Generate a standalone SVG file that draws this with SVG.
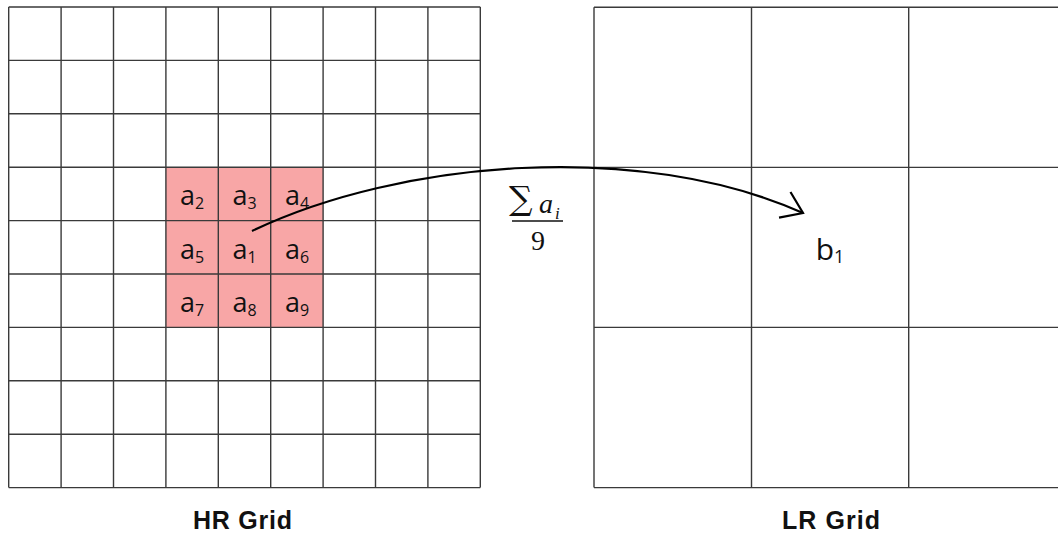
<svg xmlns="http://www.w3.org/2000/svg" width="1058" height="537" viewBox="0 0 1058 537">
  <style>
    .grid { fill: none; stroke: #3a3a3a; stroke-width: 1.4; }
    .cell { fill: #F8A6A6; stroke: none; }
    .lbl { font-family: "Open Sans", "Liberation Sans", sans-serif; font-size: 27px; fill: #111; text-anchor: middle; }
    .sub { font-size: 16px; }
    .cap { font-family: "Liberation Sans", Arial, sans-serif; font-weight: bold; font-size: 25px; fill: #111; text-anchor: middle; }
    .math { font-family: "Liberation Serif", "DejaVu Serif", serif; fill: #111; }
    .conn { fill: none; stroke: #000; stroke-width: 2.2; }
  </style>
  <defs>
    <marker id="openArrow" viewBox="0 0 30 30" refX="24" refY="15" markerWidth="30" markerHeight="30" markerUnits="userSpaceOnUse" orient="auto">
      <path d="M4,1 L24,15 L4,29" fill="none" stroke="#000" stroke-width="2.2"/>
    </marker>
  </defs>
  <rect width="1058" height="537" fill="#ffffff"/>

  <g id="highlight">
    <rect class="cell" x="165.9" y="167.2" width="157.2" height="160.2"/>
  </g>

  <g id="hr-grid">
    <path class="grid" d="M8.7,7V487.6 M61.1,7V487.6 M113.5,7V487.6 M165.9,7V487.6 M218.3,7V487.6 M270.7,7V487.6 M323.1,7V487.6 M375.5,7V487.6 M427.9,7V487.6 M480.3,7V487.6
      M8.7,7H480.3 M8.7,60.4H480.3 M8.7,113.8H480.3 M8.7,167.2H480.3 M8.7,220.6H480.3 M8.7,274H480.3 M8.7,327.4H480.3 M8.7,380.8H480.3 M8.7,434.2H480.3 M8.7,487.6H480.3"/>
  </g>

  <g id="lr-grid">
    <path class="grid" d="M594,7.3V487.6 M751.5,7.3V487.6 M908.7,7.3V487.6 M1066,7.3V487.6
      M594,7.3H1066 M594,167.4H1066 M594,327.4H1066 M594,487.6H1066"/>
  </g>

  <g id="hr-labels">
    <text class="lbl" x="192" y="205">a<tspan class="sub" dy="4">2</tspan></text>
    <text class="lbl" x="244.5" y="205">a<tspan class="sub" dy="4">3</tspan></text>
    <text class="lbl" x="297" y="205">a<tspan class="sub" dy="4">4</tspan></text>
    <text class="lbl" x="192" y="258.5">a<tspan class="sub" dy="4">5</tspan></text>
    <text class="lbl" x="244.5" y="258.5">a<tspan class="sub" dy="4">1</tspan></text>
    <text class="lbl" x="297" y="258.5">a<tspan class="sub" dy="4">6</tspan></text>
    <text class="lbl" x="192" y="312">a<tspan class="sub" dy="4">7</tspan></text>
    <text class="lbl" x="244.5" y="312">a<tspan class="sub" dy="4">8</tspan></text>
    <text class="lbl" x="297" y="312">a<tspan class="sub" dy="4">9</tspan></text>
  </g>

  <g id="lr-label">
    <text class="lbl" x="830" y="259.5" style="font-size:30px">b<tspan style="font-size:18px" dy="3">1</tspan></text>
  </g>

  <g id="formula">
    <text x="509" y="210" style="font-family:'DejaVu Serif',serif;font-size:33px;fill:#111">∑</text>
    <text class="math" x="539" y="213" style="font-size:28px;font-style:italic">a</text>
    <text class="math" x="555" y="219" style="font-size:17px;font-style:italic">i</text>
    <line x1="512" y1="221" x2="563" y2="221" stroke="#111" stroke-width="1.6"/>
    <text class="math" x="538" y="250" style="font-size:28px;text-anchor:middle">9</text>
  </g>

  <g id="captions">
    <text class="cap" x="242.5" y="529" textLength="99" lengthAdjust="spacing">HR Grid</text>
    <text class="cap" x="831" y="529" textLength="98" lengthAdjust="spacing">LR Grid</text>
  </g>

  <g id="connectors">
    <path class="conn" d="M252,231 C400,160 640,140 803,213" marker-end="url(#openArrow)"/>
  </g>
</svg>
